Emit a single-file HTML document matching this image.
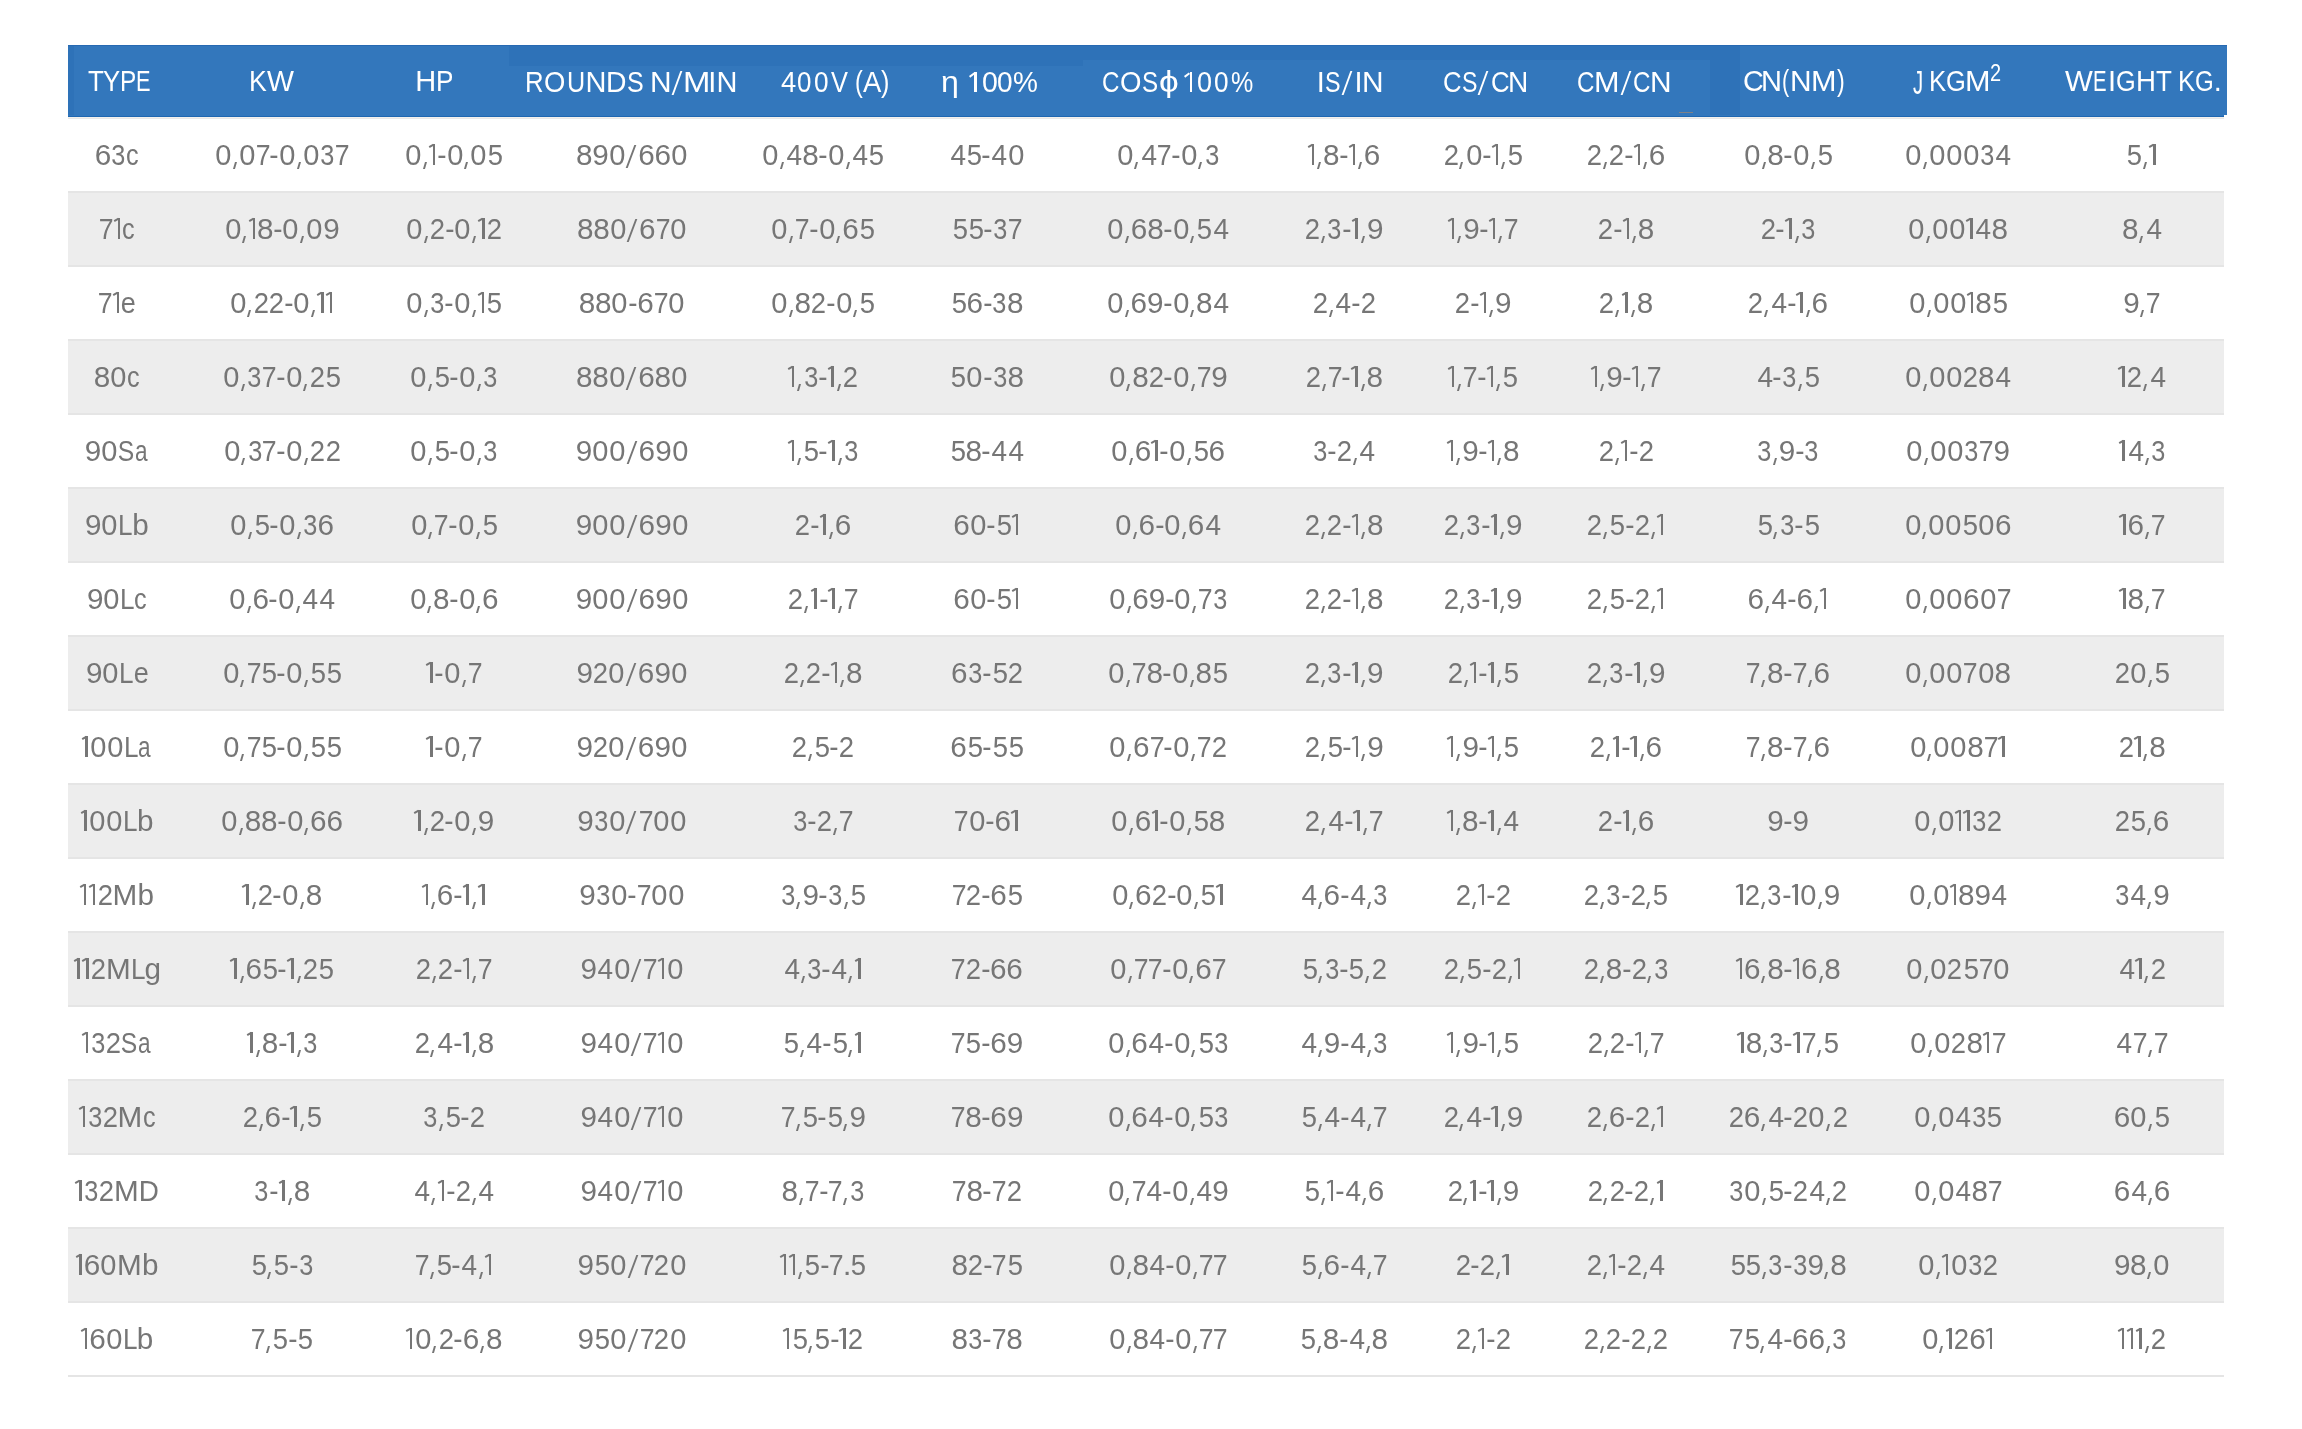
<!DOCTYPE html><html><head><meta charset="utf-8"><style>
*{margin:0;padding:0;box-sizing:border-box}
html,body{width:2302px;height:1429px;background:#fff;overflow:hidden}
body{font-family:"Liberation Sans",sans-serif;font-size:29.7px;position:relative}
.hd{position:absolute;left:68px;top:45px;width:2158.8px;height:70px;background:#3377bc}
.hdb{position:absolute;left:68px;top:115px;width:2156px;height:1px;background:#3377bc}
.mk{position:absolute;left:1679px;top:112px;width:14px;height:1px;background:#7e8187}
.fl{position:absolute;background:#2e72b8}
.hd0{position:absolute;left:68px;top:45px;width:2158.8px;height:1px;background:#2769b2}
.hd2{position:absolute;left:68px;top:116px;width:2156px;height:1px;background:#1f67b1}
.hl{position:absolute;left:68px;top:117px;width:2156px;height:1px;background:#f3f0ec}
.hl2{position:absolute;left:68px;top:118px;width:2156px;height:1px;background:#e8e8e8}
.r{position:absolute;left:68px;width:2156px;height:74px;border-bottom:2px solid #e5e5e5}
.g{background:#ededed}
.c{will-change:transform;position:absolute;top:0;width:400px;margin-left:-200px;text-align:center;line-height:72px;height:72px;white-space:nowrap;color:#767676}
i{font-style:normal}
.hc{position:absolute;left:0;width:2302px;height:72px;line-height:72px;font-size:29px;color:#fff;will-change:transform}
.hg{position:absolute;top:0;font-style:normal;transform-origin:0 0;white-space:pre}
b.hs{position:absolute;top:25.15px;width:2.3px;height:23.9px;background:#fff;transform:skewX(-20deg)}
b.h1{position:absolute;top:0;height:72px}
b.h1:before{content:'';position:absolute;right:0;bottom:25.95px;width:2.6px;height:19.8px;background:#fff}
b.h1:after{content:'';position:absolute;left:-0.15px;width:6.2px;height:2.1px;bottom:41.65px;transform:rotate(-37deg);background:#fff}
.gh{display:inline-block;margin:0 -0.37px 0 -0.47px;transform:scaleX(0.938)}
.g0{display:inline-block;margin:0 0.35px 0 0.16px;transform:scaleX(0.979)}
.g2{display:inline-block;margin:0 -0.51px 0 -0.55px;transform:scaleX(0.924)}
.g3{display:inline-block;margin:0 -0.77px 0 -0.68px;transform:scaleX(0.852)}
.g4{display:inline-block;margin:0 -0.26px 0 0.49px;transform:scaleX(0.942)}
.g5{display:inline-block;margin:0 -0.69px 0 0.11px;transform:scaleX(0.923)}
.g6{margin:0 -0.03px 0 -0.15px}
.g7{display:inline-block;margin:0 -1.26px 0 -0.87px;transform:scaleX(0.896)}
.g8{margin:0 -0.26px 0 -0.08px}
.g9{margin:0 -0.32px 0 0.09px}
.gD{display:inline-block;margin:0 -0.66px 0 -0.72px;transform:scaleX(0.938)}
.gL{display:inline-block;margin:0 -1.43px 0 -0.97px;transform:scaleX(0.878)}
.gM{margin:0 0.33px 0 -0.24px}
.gS{display:inline-block;margin:0 -1.40px 0 -1.71px;transform:scaleX(0.831)}
.ga{display:inline-block;margin:0 -0.16px 0 -1.72px;transform:scaleX(0.760)}
.gb{margin:0 0.19px 0 -0.13px}
.gc{display:inline-block;margin:0 -0.86px 0 -1.04px;transform:scaleX(0.851)}
.ge{display:inline-block;margin:0 -1.17px 0 -0.81px;transform:scaleX(0.911)}
.gg{margin:0 -0.16px 0 -0.69px}
.gp{display:inline-block;margin:0 -0.73px 0 -0.73px;transform:scaleX(1.061)}
.gs{display:inline-block;width:12.81px;height:0;position:relative}
.gs:before{content:'';position:absolute;left:4.91px;bottom:-2.7px;width:2.3px;height:23px;background:#767676;transform:skewX(-20.5deg)}
.gk{display:inline-block;width:6.80px;height:0;position:relative}
.gk:before{content:'';position:absolute;left:1.90px;bottom:-3.8px;width:2.4px;height:6.9px;background:#767676;transform:skewX(-16deg)}
.g1{display:inline-block;width:8.72px;height:0;position:relative}
.g1:before{content:'';position:absolute;left:4.15px;bottom:0;width:2.5px;height:20.6px;background:#767676}
.g1:after{content:'';position:absolute;left:0.35px;bottom:17.4px;width:4.5px;height:2.35px;background:#767676;transform:rotate(-30deg)}
</style></head><body>
<div class="hd"></div><div class="fl" style="left:68px;top:45px;width:6px;height:71px"></div><div class="fl" style="left:509px;top:45px;width:574px;height:21px"></div><div class="fl" style="left:1083px;top:45px;width:657px;height:15px"></div><div class="fl" style="left:1710px;top:45px;width:30px;height:71px"></div><div class="hd0"></div><div class="hdb"></div><div class="hd2"></div><div class="mk"></div><div class="hl"></div><div class="hl2"></div>
<div class="hc" style="top:45px"><i class="hg" style="left:87.62px;transform:scaleX(0.896)">T</i><i class="hg" style="left:103.14px;transform:scaleX(0.886)">Y</i><i class="hg" style="left:119.90px;transform:scaleX(0.842)">P</i><i class="hg" style="left:136.31px;transform:scaleX(0.751)">E</i></div>
<div class="hc" style="top:45px"><i class="hg" style="left:249.41px;transform:scaleX(0.920)">K</i><i class="hg" style="left:267.27px;transform:scaleX(0.984)">W</i></div>
<div class="hc" style="top:45px"><i class="hg" style="left:415.32px;transform:scaleX(1.000)">H</i><i class="hg" style="left:436.06px;transform:scaleX(0.901)">P</i></div>
<div class="hc" style="top:46px"><i class="hg" style="left:524.59px;transform:scaleX(0.889)">R</i><i class="hg" style="left:544.00px;transform:scaleX(0.945)">O</i><i class="hg" style="left:566.86px;transform:scaleX(0.868)">U</i><i class="hg" style="left:585.52px;transform:scaleX(1.000)">N</i><i class="hg" style="left:606.07px;transform:scaleX(0.978)">D</i><i class="hg" style="left:626.86px;transform:scaleX(0.863)">S</i><i class="hg" style="left:649.95px;transform:scaleX(1.031)">N</i><b class="hs" style="left:675.85px"></b><i class="hg" style="left:683.20px;transform:scaleX(1.134)">M</i><i class="hg" style="left:708.37px;transform:scaleX(1.000)">I</i><i class="hg" style="left:716.52px;transform:scaleX(1.000)">N</i></div>
<div class="hc" style="top:46px"><i class="hg" style="left:781.47px;transform:scaleX(0.944)">4</i><i class="hg" style="left:797.29px;transform:scaleX(0.894)">0</i><i class="hg" style="left:813.98px;transform:scaleX(0.902)">0</i><i class="hg" style="left:831.19px;transform:scaleX(0.875)">V</i><i class="hg" style="left:854.75px;transform:scaleX(0.806)">(</i><i class="hg" style="left:862.75px;transform:scaleX(0.946)">A</i><i class="hg" style="left:881.35px;transform:scaleX(0.871)">)</i></div>
<div class="hc" style="top:46px"><i class="hg" style="left:940.54px;transform:scaleX(1.106)">&eta;</i><b class="h1" style="left:969.20px;width:7.8px"></b><i class="hg" style="left:981.89px;transform:scaleX(0.981)">0</i><i class="hg" style="left:997.41px;transform:scaleX(0.967)">0</i><i class="hg" style="left:1013.10px;transform:scaleX(0.966)">%</i></div>
<div class="hc" style="top:46px"><i class="hg" style="left:1102.27px;transform:scaleX(0.833)">C</i><i class="hg" style="left:1119.50px;transform:scaleX(0.950)">O</i><i class="hg" style="left:1142.00px;transform:scaleX(0.833)">S</i><i class="hg" style="left:1159.12px;transform:scaleX(1.216)">&#x3D5;</i><b class="h1" style="left:1184.30px;width:7.8px"></b><i class="hg" style="left:1196.55px;transform:scaleX(0.931)">0</i><i class="hg" style="left:1213.68px;transform:scaleX(0.902)">0</i><i class="hg" style="left:1231.11px;transform:scaleX(0.864)">%</i></div>
<div class="hc" style="top:46px"><i class="hg" style="left:1316.72px;transform:scaleX(1.000)">I</i><i class="hg" style="left:1324.74px;transform:scaleX(0.803)">S</i><b class="hs" style="left:1346.10px"></b><i class="hg" style="left:1354.47px;transform:scaleX(1.000)">I</i><i class="hg" style="left:1361.55px;transform:scaleX(1.031)">N</i></div>
<div class="hc" style="top:46px"><i class="hg" style="left:1442.99px;transform:scaleX(0.888)">C</i><i class="hg" style="left:1461.95px;transform:scaleX(0.797)">S</i><b class="hs" style="left:1482.40px"></b><i class="hg" style="left:1490.79px;transform:scaleX(0.888)">C</i><i class="hg" style="left:1508.49px;transform:scaleX(0.969)">N</i></div>
<div class="hc" style="top:46px"><i class="hg" style="left:1577.37px;transform:scaleX(0.833)">C</i><i class="hg" style="left:1594.29px;transform:scaleX(1.057)">M</i><b class="hs" style="left:1624.55px"></b><i class="hg" style="left:1633.27px;transform:scaleX(0.833)">C</i><i class="hg" style="left:1649.75px;transform:scaleX(1.031)">N</i></div>
<div class="hc" style="top:45px"><i class="hg" style="left:1743.34px;transform:scaleX(0.991)">C</i><i class="hg" style="left:1761.12px;transform:scaleX(1.000)">N</i><i class="hg" style="left:1781.77px;transform:scaleX(0.741)">(</i><i class="hg" style="left:1790.15px;transform:scaleX(1.031)">N</i><i class="hg" style="left:1811.19px;transform:scaleX(1.057)">M</i><i class="hg" style="left:1836.96px;transform:scaleX(0.806)">)</i></div>
<div class="hc" style="top:45px"><i class="hg" style="left:1912.52px;transform-origin:0 25.4px;transform:scale(0.700,1.14)">J</i><i class="hg" style="left:1928.88px;transform:scaleX(0.890)">K</i><i class="hg" style="left:1945.72px;transform:scaleX(0.877)">G</i><i class="hg" style="left:1964.99px;transform:scaleX(1.057)">M</i><i class="hg" style="left:1990.00px;font-size:23.6px;top:-8.18px;line-height:72px;transform:scaleX(0.846)">2</i></div>
<div class="hc" style="top:45px"><i class="hg" style="left:2064.87px;transform:scaleX(1.017)">W</i><i class="hg" style="left:2093.33px;transform:scaleX(0.700)">E</i><i class="hg" style="left:2108.12px;transform:scaleX(1.000)">I</i><i class="hg" style="left:2116.03px;transform:scaleX(0.872)">G</i><i class="hg" style="left:2135.84px;transform:scaleX(0.951)">H</i><i class="hg" style="left:2155.52px;transform:scaleX(0.896)">T</i><i class="hg" style="left:2178.00px;transform:scaleX(0.884)">K</i><i class="hg" style="left:2195.39px;transform:scaleX(0.829)">G</i><i class="hg" style="left:2213.87px;transform:scaleX(1.000)">.</i></div>
<div class="r" style="top:119px"><div class="c" style="left:48.73px"><i class="g6">6</i><i class="g3">3</i><i class="gc">c</i></div><div class="c" style="left:213.87px"><i class="g0">0</i><i class="gk"></i><i class="g0">0</i><i class="g7">7</i><i class="gh">-</i><i class="g0">0</i><i class="gk"></i><i class="g0">0</i><i class="g3">3</i><i class="g7">7</i></div><div class="c" style="left:385.88px"><i class="g0">0</i><i class="gk"></i><i class="g1"></i><i class="gh">-</i><i class="g0">0</i><i class="gk"></i><i class="g0">0</i><i class="g5">5</i></div><div class="c" style="left:563.83px"><i class="g8">8</i><i class="g9">9</i><i class="g0">0</i><i class="gs"></i><i class="g6">6</i><i class="g6">6</i><i class="g0">0</i></div><div class="c" style="left:754.80px"><i class="g0">0</i><i class="gk"></i><i class="g4">4</i><i class="g8">8</i><i class="gh">-</i><i class="g0">0</i><i class="gk"></i><i class="g4">4</i><i class="g5">5</i></div><div class="c" style="left:919.10px"><i class="g4">4</i><i class="g5">5</i><i class="gh">-</i><i class="g4">4</i><i class="g0">0</i></div><div class="c" style="left:1099.85px"><i class="g0">0</i><i class="gk"></i><i class="g4">4</i><i class="g7">7</i><i class="gh">-</i><i class="g0">0</i><i class="gk"></i><i class="g3">3</i></div><div class="c" style="left:1275.77px"><i class="g1"></i><i class="gk"></i><i class="g8">8</i><i class="gh">-</i><i class="g1"></i><i class="gk"></i><i class="g6">6</i></div><div class="c" style="left:1414.50px"><i class="g2">2</i><i class="gk"></i><i class="g0">0</i><i class="gh">-</i><i class="g1"></i><i class="gk"></i><i class="g5">5</i></div><div class="c" style="left:1557.76px"><i class="g2">2</i><i class="gk"></i><i class="g2">2</i><i class="gh">-</i><i class="g1"></i><i class="gk"></i><i class="g6">6</i></div><div class="c" style="left:1719.80px"><i class="g0">0</i><i class="gk"></i><i class="g8">8</i><i class="gh">-</i><i class="g0">0</i><i class="gk"></i><i class="g5">5</i></div><div class="c" style="left:1889.60px"><i class="g0">0</i><i class="gk"></i><i class="g0">0</i><i class="g0">0</i><i class="g0">0</i><i class="g3">3</i><i class="g4">4</i></div><div class="c" style="left:2073.89px"><i class="g5">5</i><i class="gk"></i><i class="g1"></i></div></div>
<div class="r g" style="top:193px"><div class="c" style="left:48.73px"><i class="g7">7</i><i class="g1"></i><i class="gc">c</i></div><div class="c" style="left:213.87px"><i class="g0">0</i><i class="gk"></i><i class="g1"></i><i class="g8">8</i><i class="gh">-</i><i class="g0">0</i><i class="gk"></i><i class="g0">0</i><i class="g9">9</i></div><div class="c" style="left:385.88px"><i class="g0">0</i><i class="gk"></i><i class="g2">2</i><i class="gh">-</i><i class="g0">0</i><i class="gk"></i><i class="g1"></i><i class="g2">2</i></div><div class="c" style="left:563.83px"><i class="g8">8</i><i class="g8">8</i><i class="g0">0</i><i class="gs"></i><i class="g6">6</i><i class="g7">7</i><i class="g0">0</i></div><div class="c" style="left:754.80px"><i class="g0">0</i><i class="gk"></i><i class="g7">7</i><i class="gh">-</i><i class="g0">0</i><i class="gk"></i><i class="g6">6</i><i class="g5">5</i></div><div class="c" style="left:919.10px"><i class="g5">5</i><i class="g5">5</i><i class="gh">-</i><i class="g3">3</i><i class="g7">7</i></div><div class="c" style="left:1099.85px"><i class="g0">0</i><i class="gk"></i><i class="g6">6</i><i class="g8">8</i><i class="gh">-</i><i class="g0">0</i><i class="gk"></i><i class="g5">5</i><i class="g4">4</i></div><div class="c" style="left:1275.77px"><i class="g2">2</i><i class="gk"></i><i class="g3">3</i><i class="gh">-</i><i class="g1"></i><i class="gk"></i><i class="g9">9</i></div><div class="c" style="left:1414.50px"><i class="g1"></i><i class="gk"></i><i class="g9">9</i><i class="gh">-</i><i class="g1"></i><i class="gk"></i><i class="g7">7</i></div><div class="c" style="left:1557.76px"><i class="g2">2</i><i class="gh">-</i><i class="g1"></i><i class="gk"></i><i class="g8">8</i></div><div class="c" style="left:1719.80px"><i class="g2">2</i><i class="gh">-</i><i class="g1"></i><i class="gk"></i><i class="g3">3</i></div><div class="c" style="left:1889.60px"><i class="g0">0</i><i class="gk"></i><i class="g0">0</i><i class="g0">0</i><i class="g1"></i><i class="g4">4</i><i class="g8">8</i></div><div class="c" style="left:2073.89px"><i class="g8">8</i><i class="gk"></i><i class="g4">4</i></div></div>
<div class="r" style="top:267px"><div class="c" style="left:48.73px"><i class="g7">7</i><i class="g1"></i><i class="ge">e</i></div><div class="c" style="left:213.87px"><i class="g0">0</i><i class="gk"></i><i class="g2">2</i><i class="g2">2</i><i class="gh">-</i><i class="g0">0</i><i class="gk"></i><i class="g1"></i><i class="g1"></i></div><div class="c" style="left:385.88px"><i class="g0">0</i><i class="gk"></i><i class="g3">3</i><i class="gh">-</i><i class="g0">0</i><i class="gk"></i><i class="g1"></i><i class="g5">5</i></div><div class="c" style="left:563.83px"><i class="g8">8</i><i class="g8">8</i><i class="g0">0</i><i class="gh">-</i><i class="g6">6</i><i class="g7">7</i><i class="g0">0</i></div><div class="c" style="left:754.80px"><i class="g0">0</i><i class="gk"></i><i class="g8">8</i><i class="g2">2</i><i class="gh">-</i><i class="g0">0</i><i class="gk"></i><i class="g5">5</i></div><div class="c" style="left:919.10px"><i class="g5">5</i><i class="g6">6</i><i class="gh">-</i><i class="g3">3</i><i class="g8">8</i></div><div class="c" style="left:1099.85px"><i class="g0">0</i><i class="gk"></i><i class="g6">6</i><i class="g9">9</i><i class="gh">-</i><i class="g0">0</i><i class="gk"></i><i class="g8">8</i><i class="g4">4</i></div><div class="c" style="left:1275.77px"><i class="g2">2</i><i class="gk"></i><i class="g4">4</i><i class="gh">-</i><i class="g2">2</i></div><div class="c" style="left:1414.50px"><i class="g2">2</i><i class="gh">-</i><i class="g1"></i><i class="gk"></i><i class="g9">9</i></div><div class="c" style="left:1557.76px"><i class="g2">2</i><i class="gk"></i><i class="g1"></i><i class="gk"></i><i class="g8">8</i></div><div class="c" style="left:1719.80px"><i class="g2">2</i><i class="gk"></i><i class="g4">4</i><i class="gh">-</i><i class="g1"></i><i class="gk"></i><i class="g6">6</i></div><div class="c" style="left:1889.60px"><i class="g0">0</i><i class="gk"></i><i class="g0">0</i><i class="g0">0</i><i class="g1"></i><i class="g8">8</i><i class="g5">5</i></div><div class="c" style="left:2073.89px"><i class="g9">9</i><i class="gk"></i><i class="g7">7</i></div></div>
<div class="r g" style="top:341px"><div class="c" style="left:48.73px"><i class="g8">8</i><i class="g0">0</i><i class="gc">c</i></div><div class="c" style="left:213.87px"><i class="g0">0</i><i class="gk"></i><i class="g3">3</i><i class="g7">7</i><i class="gh">-</i><i class="g0">0</i><i class="gk"></i><i class="g2">2</i><i class="g5">5</i></div><div class="c" style="left:385.88px"><i class="g0">0</i><i class="gk"></i><i class="g5">5</i><i class="gh">-</i><i class="g0">0</i><i class="gk"></i><i class="g3">3</i></div><div class="c" style="left:563.83px"><i class="g8">8</i><i class="g8">8</i><i class="g0">0</i><i class="gs"></i><i class="g6">6</i><i class="g8">8</i><i class="g0">0</i></div><div class="c" style="left:754.80px"><i class="g1"></i><i class="gk"></i><i class="g3">3</i><i class="gh">-</i><i class="g1"></i><i class="gk"></i><i class="g2">2</i></div><div class="c" style="left:919.10px"><i class="g5">5</i><i class="g0">0</i><i class="gh">-</i><i class="g3">3</i><i class="g8">8</i></div><div class="c" style="left:1099.85px"><i class="g0">0</i><i class="gk"></i><i class="g8">8</i><i class="g2">2</i><i class="gh">-</i><i class="g0">0</i><i class="gk"></i><i class="g7">7</i><i class="g9">9</i></div><div class="c" style="left:1275.77px"><i class="g2">2</i><i class="gk"></i><i class="g7">7</i><i class="gh">-</i><i class="g1"></i><i class="gk"></i><i class="g8">8</i></div><div class="c" style="left:1414.50px"><i class="g1"></i><i class="gk"></i><i class="g7">7</i><i class="gh">-</i><i class="g1"></i><i class="gk"></i><i class="g5">5</i></div><div class="c" style="left:1557.76px"><i class="g1"></i><i class="gk"></i><i class="g9">9</i><i class="gh">-</i><i class="g1"></i><i class="gk"></i><i class="g7">7</i></div><div class="c" style="left:1719.80px"><i class="g4">4</i><i class="gh">-</i><i class="g3">3</i><i class="gk"></i><i class="g5">5</i></div><div class="c" style="left:1889.60px"><i class="g0">0</i><i class="gk"></i><i class="g0">0</i><i class="g0">0</i><i class="g2">2</i><i class="g8">8</i><i class="g4">4</i></div><div class="c" style="left:2073.89px"><i class="g1"></i><i class="g2">2</i><i class="gk"></i><i class="g4">4</i></div></div>
<div class="r" style="top:415px"><div class="c" style="left:48.73px"><i class="g9">9</i><i class="g0">0</i><i class="gS">S</i><i class="ga">a</i></div><div class="c" style="left:213.87px"><i class="g0">0</i><i class="gk"></i><i class="g3">3</i><i class="g7">7</i><i class="gh">-</i><i class="g0">0</i><i class="gk"></i><i class="g2">2</i><i class="g2">2</i></div><div class="c" style="left:385.88px"><i class="g0">0</i><i class="gk"></i><i class="g5">5</i><i class="gh">-</i><i class="g0">0</i><i class="gk"></i><i class="g3">3</i></div><div class="c" style="left:563.83px"><i class="g9">9</i><i class="g0">0</i><i class="g0">0</i><i class="gs"></i><i class="g6">6</i><i class="g9">9</i><i class="g0">0</i></div><div class="c" style="left:754.80px"><i class="g1"></i><i class="gk"></i><i class="g5">5</i><i class="gh">-</i><i class="g1"></i><i class="gk"></i><i class="g3">3</i></div><div class="c" style="left:919.10px"><i class="g5">5</i><i class="g8">8</i><i class="gh">-</i><i class="g4">4</i><i class="g4">4</i></div><div class="c" style="left:1099.85px"><i class="g0">0</i><i class="gk"></i><i class="g6">6</i><i class="g1"></i><i class="gh">-</i><i class="g0">0</i><i class="gk"></i><i class="g5">5</i><i class="g6">6</i></div><div class="c" style="left:1275.77px"><i class="g3">3</i><i class="gh">-</i><i class="g2">2</i><i class="gk"></i><i class="g4">4</i></div><div class="c" style="left:1414.50px"><i class="g1"></i><i class="gk"></i><i class="g9">9</i><i class="gh">-</i><i class="g1"></i><i class="gk"></i><i class="g8">8</i></div><div class="c" style="left:1557.76px"><i class="g2">2</i><i class="gk"></i><i class="g1"></i><i class="gh">-</i><i class="g2">2</i></div><div class="c" style="left:1719.80px"><i class="g3">3</i><i class="gk"></i><i class="g9">9</i><i class="gh">-</i><i class="g3">3</i></div><div class="c" style="left:1889.60px"><i class="g0">0</i><i class="gk"></i><i class="g0">0</i><i class="g0">0</i><i class="g3">3</i><i class="g7">7</i><i class="g9">9</i></div><div class="c" style="left:2073.89px"><i class="g1"></i><i class="g4">4</i><i class="gk"></i><i class="g3">3</i></div></div>
<div class="r g" style="top:489px"><div class="c" style="left:48.73px"><i class="g9">9</i><i class="g0">0</i><i class="gL">L</i><i class="gb">b</i></div><div class="c" style="left:213.87px"><i class="g0">0</i><i class="gk"></i><i class="g5">5</i><i class="gh">-</i><i class="g0">0</i><i class="gk"></i><i class="g3">3</i><i class="g6">6</i></div><div class="c" style="left:385.88px"><i class="g0">0</i><i class="gk"></i><i class="g7">7</i><i class="gh">-</i><i class="g0">0</i><i class="gk"></i><i class="g5">5</i></div><div class="c" style="left:563.83px"><i class="g9">9</i><i class="g0">0</i><i class="g0">0</i><i class="gs"></i><i class="g6">6</i><i class="g9">9</i><i class="g0">0</i></div><div class="c" style="left:754.80px"><i class="g2">2</i><i class="gh">-</i><i class="g1"></i><i class="gk"></i><i class="g6">6</i></div><div class="c" style="left:919.10px"><i class="g6">6</i><i class="g0">0</i><i class="gh">-</i><i class="g5">5</i><i class="g1"></i></div><div class="c" style="left:1099.85px"><i class="g0">0</i><i class="gk"></i><i class="g6">6</i><i class="gh">-</i><i class="g0">0</i><i class="gk"></i><i class="g6">6</i><i class="g4">4</i></div><div class="c" style="left:1275.77px"><i class="g2">2</i><i class="gk"></i><i class="g2">2</i><i class="gh">-</i><i class="g1"></i><i class="gk"></i><i class="g8">8</i></div><div class="c" style="left:1414.50px"><i class="g2">2</i><i class="gk"></i><i class="g3">3</i><i class="gh">-</i><i class="g1"></i><i class="gk"></i><i class="g9">9</i></div><div class="c" style="left:1557.76px"><i class="g2">2</i><i class="gk"></i><i class="g5">5</i><i class="gh">-</i><i class="g2">2</i><i class="gk"></i><i class="g1"></i></div><div class="c" style="left:1719.80px"><i class="g5">5</i><i class="gk"></i><i class="g3">3</i><i class="gh">-</i><i class="g5">5</i></div><div class="c" style="left:1889.60px"><i class="g0">0</i><i class="gk"></i><i class="g0">0</i><i class="g0">0</i><i class="g5">5</i><i class="g0">0</i><i class="g6">6</i></div><div class="c" style="left:2073.89px"><i class="g1"></i><i class="g6">6</i><i class="gk"></i><i class="g7">7</i></div></div>
<div class="r" style="top:563px"><div class="c" style="left:48.73px"><i class="g9">9</i><i class="g0">0</i><i class="gL">L</i><i class="gc">c</i></div><div class="c" style="left:213.87px"><i class="g0">0</i><i class="gk"></i><i class="g6">6</i><i class="gh">-</i><i class="g0">0</i><i class="gk"></i><i class="g4">4</i><i class="g4">4</i></div><div class="c" style="left:385.88px"><i class="g0">0</i><i class="gk"></i><i class="g8">8</i><i class="gh">-</i><i class="g0">0</i><i class="gk"></i><i class="g6">6</i></div><div class="c" style="left:563.83px"><i class="g9">9</i><i class="g0">0</i><i class="g0">0</i><i class="gs"></i><i class="g6">6</i><i class="g9">9</i><i class="g0">0</i></div><div class="c" style="left:754.80px"><i class="g2">2</i><i class="gk"></i><i class="g1"></i><i class="gh">-</i><i class="g1"></i><i class="gk"></i><i class="g7">7</i></div><div class="c" style="left:919.10px"><i class="g6">6</i><i class="g0">0</i><i class="gh">-</i><i class="g5">5</i><i class="g1"></i></div><div class="c" style="left:1099.85px"><i class="g0">0</i><i class="gk"></i><i class="g6">6</i><i class="g9">9</i><i class="gh">-</i><i class="g0">0</i><i class="gk"></i><i class="g7">7</i><i class="g3">3</i></div><div class="c" style="left:1275.77px"><i class="g2">2</i><i class="gk"></i><i class="g2">2</i><i class="gh">-</i><i class="g1"></i><i class="gk"></i><i class="g8">8</i></div><div class="c" style="left:1414.50px"><i class="g2">2</i><i class="gk"></i><i class="g3">3</i><i class="gh">-</i><i class="g1"></i><i class="gk"></i><i class="g9">9</i></div><div class="c" style="left:1557.76px"><i class="g2">2</i><i class="gk"></i><i class="g5">5</i><i class="gh">-</i><i class="g2">2</i><i class="gk"></i><i class="g1"></i></div><div class="c" style="left:1719.80px"><i class="g6">6</i><i class="gk"></i><i class="g4">4</i><i class="gh">-</i><i class="g6">6</i><i class="gk"></i><i class="g1"></i></div><div class="c" style="left:1889.60px"><i class="g0">0</i><i class="gk"></i><i class="g0">0</i><i class="g0">0</i><i class="g6">6</i><i class="g0">0</i><i class="g7">7</i></div><div class="c" style="left:2073.89px"><i class="g1"></i><i class="g8">8</i><i class="gk"></i><i class="g7">7</i></div></div>
<div class="r g" style="top:637px"><div class="c" style="left:48.73px"><i class="g9">9</i><i class="g0">0</i><i class="gL">L</i><i class="ge">e</i></div><div class="c" style="left:213.87px"><i class="g0">0</i><i class="gk"></i><i class="g7">7</i><i class="g5">5</i><i class="gh">-</i><i class="g0">0</i><i class="gk"></i><i class="g5">5</i><i class="g5">5</i></div><div class="c" style="left:385.88px"><i class="g1"></i><i class="gh">-</i><i class="g0">0</i><i class="gk"></i><i class="g7">7</i></div><div class="c" style="left:563.83px"><i class="g9">9</i><i class="g2">2</i><i class="g0">0</i><i class="gs"></i><i class="g6">6</i><i class="g9">9</i><i class="g0">0</i></div><div class="c" style="left:754.80px"><i class="g2">2</i><i class="gk"></i><i class="g2">2</i><i class="gh">-</i><i class="g1"></i><i class="gk"></i><i class="g8">8</i></div><div class="c" style="left:919.10px"><i class="g6">6</i><i class="g3">3</i><i class="gh">-</i><i class="g5">5</i><i class="g2">2</i></div><div class="c" style="left:1099.85px"><i class="g0">0</i><i class="gk"></i><i class="g7">7</i><i class="g8">8</i><i class="gh">-</i><i class="g0">0</i><i class="gk"></i><i class="g8">8</i><i class="g5">5</i></div><div class="c" style="left:1275.77px"><i class="g2">2</i><i class="gk"></i><i class="g3">3</i><i class="gh">-</i><i class="g1"></i><i class="gk"></i><i class="g9">9</i></div><div class="c" style="left:1414.50px"><i class="g2">2</i><i class="gk"></i><i class="g1"></i><i class="gh">-</i><i class="g1"></i><i class="gk"></i><i class="g5">5</i></div><div class="c" style="left:1557.76px"><i class="g2">2</i><i class="gk"></i><i class="g3">3</i><i class="gh">-</i><i class="g1"></i><i class="gk"></i><i class="g9">9</i></div><div class="c" style="left:1719.80px"><i class="g7">7</i><i class="gk"></i><i class="g8">8</i><i class="gh">-</i><i class="g7">7</i><i class="gk"></i><i class="g6">6</i></div><div class="c" style="left:1889.60px"><i class="g0">0</i><i class="gk"></i><i class="g0">0</i><i class="g0">0</i><i class="g7">7</i><i class="g0">0</i><i class="g8">8</i></div><div class="c" style="left:2073.89px"><i class="g2">2</i><i class="g0">0</i><i class="gk"></i><i class="g5">5</i></div></div>
<div class="r" style="top:711px"><div class="c" style="left:48.73px"><i class="g1"></i><i class="g0">0</i><i class="g0">0</i><i class="gL">L</i><i class="ga">a</i></div><div class="c" style="left:213.87px"><i class="g0">0</i><i class="gk"></i><i class="g7">7</i><i class="g5">5</i><i class="gh">-</i><i class="g0">0</i><i class="gk"></i><i class="g5">5</i><i class="g5">5</i></div><div class="c" style="left:385.88px"><i class="g1"></i><i class="gh">-</i><i class="g0">0</i><i class="gk"></i><i class="g7">7</i></div><div class="c" style="left:563.83px"><i class="g9">9</i><i class="g2">2</i><i class="g0">0</i><i class="gs"></i><i class="g6">6</i><i class="g9">9</i><i class="g0">0</i></div><div class="c" style="left:754.80px"><i class="g2">2</i><i class="gk"></i><i class="g5">5</i><i class="gh">-</i><i class="g2">2</i></div><div class="c" style="left:919.10px"><i class="g6">6</i><i class="g5">5</i><i class="gh">-</i><i class="g5">5</i><i class="g5">5</i></div><div class="c" style="left:1099.85px"><i class="g0">0</i><i class="gk"></i><i class="g6">6</i><i class="g7">7</i><i class="gh">-</i><i class="g0">0</i><i class="gk"></i><i class="g7">7</i><i class="g2">2</i></div><div class="c" style="left:1275.77px"><i class="g2">2</i><i class="gk"></i><i class="g5">5</i><i class="gh">-</i><i class="g1"></i><i class="gk"></i><i class="g9">9</i></div><div class="c" style="left:1414.50px"><i class="g1"></i><i class="gk"></i><i class="g9">9</i><i class="gh">-</i><i class="g1"></i><i class="gk"></i><i class="g5">5</i></div><div class="c" style="left:1557.76px"><i class="g2">2</i><i class="gk"></i><i class="g1"></i><i class="gh">-</i><i class="g1"></i><i class="gk"></i><i class="g6">6</i></div><div class="c" style="left:1719.80px"><i class="g7">7</i><i class="gk"></i><i class="g8">8</i><i class="gh">-</i><i class="g7">7</i><i class="gk"></i><i class="g6">6</i></div><div class="c" style="left:1889.60px"><i class="g0">0</i><i class="gk"></i><i class="g0">0</i><i class="g0">0</i><i class="g8">8</i><i class="g7">7</i><i class="g1"></i></div><div class="c" style="left:2073.89px"><i class="g2">2</i><i class="g1"></i><i class="gk"></i><i class="g8">8</i></div></div>
<div class="r g" style="top:785px"><div class="c" style="left:48.73px"><i class="g1"></i><i class="g0">0</i><i class="g0">0</i><i class="gL">L</i><i class="gb">b</i></div><div class="c" style="left:213.87px"><i class="g0">0</i><i class="gk"></i><i class="g8">8</i><i class="g8">8</i><i class="gh">-</i><i class="g0">0</i><i class="gk"></i><i class="g6">6</i><i class="g6">6</i></div><div class="c" style="left:385.88px"><i class="g1"></i><i class="gk"></i><i class="g2">2</i><i class="gh">-</i><i class="g0">0</i><i class="gk"></i><i class="g9">9</i></div><div class="c" style="left:563.83px"><i class="g9">9</i><i class="g3">3</i><i class="g0">0</i><i class="gs"></i><i class="g7">7</i><i class="g0">0</i><i class="g0">0</i></div><div class="c" style="left:754.80px"><i class="g3">3</i><i class="gh">-</i><i class="g2">2</i><i class="gk"></i><i class="g7">7</i></div><div class="c" style="left:919.10px"><i class="g7">7</i><i class="g0">0</i><i class="gh">-</i><i class="g6">6</i><i class="g1"></i></div><div class="c" style="left:1099.85px"><i class="g0">0</i><i class="gk"></i><i class="g6">6</i><i class="g1"></i><i class="gh">-</i><i class="g0">0</i><i class="gk"></i><i class="g5">5</i><i class="g8">8</i></div><div class="c" style="left:1275.77px"><i class="g2">2</i><i class="gk"></i><i class="g4">4</i><i class="gh">-</i><i class="g1"></i><i class="gk"></i><i class="g7">7</i></div><div class="c" style="left:1414.50px"><i class="g1"></i><i class="gk"></i><i class="g8">8</i><i class="gh">-</i><i class="g1"></i><i class="gk"></i><i class="g4">4</i></div><div class="c" style="left:1557.76px"><i class="g2">2</i><i class="gh">-</i><i class="g1"></i><i class="gk"></i><i class="g6">6</i></div><div class="c" style="left:1719.80px"><i class="g9">9</i><i class="gh">-</i><i class="g9">9</i></div><div class="c" style="left:1889.60px"><i class="g0">0</i><i class="gk"></i><i class="g0">0</i><i class="g1"></i><i class="g1"></i><i class="g3">3</i><i class="g2">2</i></div><div class="c" style="left:2073.89px"><i class="g2">2</i><i class="g5">5</i><i class="gk"></i><i class="g6">6</i></div></div>
<div class="r" style="top:859px"><div class="c" style="left:48.73px"><i class="g1"></i><i class="g1"></i><i class="g2">2</i><i class="gM">M</i><i class="gb">b</i></div><div class="c" style="left:213.87px"><i class="g1"></i><i class="gk"></i><i class="g2">2</i><i class="gh">-</i><i class="g0">0</i><i class="gk"></i><i class="g8">8</i></div><div class="c" style="left:385.88px"><i class="g1"></i><i class="gk"></i><i class="g6">6</i><i class="gh">-</i><i class="g1"></i><i class="gk"></i><i class="g1"></i></div><div class="c" style="left:563.83px"><i class="g9">9</i><i class="g3">3</i><i class="g0">0</i><i class="gh">-</i><i class="g7">7</i><i class="g0">0</i><i class="g0">0</i></div><div class="c" style="left:754.80px"><i class="g3">3</i><i class="gk"></i><i class="g9">9</i><i class="gh">-</i><i class="g3">3</i><i class="gk"></i><i class="g5">5</i></div><div class="c" style="left:919.10px"><i class="g7">7</i><i class="g2">2</i><i class="gh">-</i><i class="g6">6</i><i class="g5">5</i></div><div class="c" style="left:1099.85px"><i class="g0">0</i><i class="gk"></i><i class="g6">6</i><i class="g2">2</i><i class="gh">-</i><i class="g0">0</i><i class="gk"></i><i class="g5">5</i><i class="g1"></i></div><div class="c" style="left:1275.77px"><i class="g4">4</i><i class="gk"></i><i class="g6">6</i><i class="gh">-</i><i class="g4">4</i><i class="gk"></i><i class="g3">3</i></div><div class="c" style="left:1414.50px"><i class="g2">2</i><i class="gk"></i><i class="g1"></i><i class="gh">-</i><i class="g2">2</i></div><div class="c" style="left:1557.76px"><i class="g2">2</i><i class="gk"></i><i class="g3">3</i><i class="gh">-</i><i class="g2">2</i><i class="gk"></i><i class="g5">5</i></div><div class="c" style="left:1719.80px"><i class="g1"></i><i class="g2">2</i><i class="gk"></i><i class="g3">3</i><i class="gh">-</i><i class="g1"></i><i class="g0">0</i><i class="gk"></i><i class="g9">9</i></div><div class="c" style="left:1889.60px"><i class="g0">0</i><i class="gk"></i><i class="g0">0</i><i class="g1"></i><i class="g8">8</i><i class="g9">9</i><i class="g4">4</i></div><div class="c" style="left:2073.89px"><i class="g3">3</i><i class="g4">4</i><i class="gk"></i><i class="g9">9</i></div></div>
<div class="r g" style="top:933px"><div class="c" style="left:48.73px"><i class="g1"></i><i class="g1"></i><i class="g2">2</i><i class="gM">M</i><i class="gL">L</i><i class="gg">g</i></div><div class="c" style="left:213.87px"><i class="g1"></i><i class="gk"></i><i class="g6">6</i><i class="g5">5</i><i class="gh">-</i><i class="g1"></i><i class="gk"></i><i class="g2">2</i><i class="g5">5</i></div><div class="c" style="left:385.88px"><i class="g2">2</i><i class="gk"></i><i class="g2">2</i><i class="gh">-</i><i class="g1"></i><i class="gk"></i><i class="g7">7</i></div><div class="c" style="left:563.83px"><i class="g9">9</i><i class="g4">4</i><i class="g0">0</i><i class="gs"></i><i class="g7">7</i><i class="g1"></i><i class="g0">0</i></div><div class="c" style="left:754.80px"><i class="g4">4</i><i class="gk"></i><i class="g3">3</i><i class="gh">-</i><i class="g4">4</i><i class="gk"></i><i class="g1"></i></div><div class="c" style="left:919.10px"><i class="g7">7</i><i class="g2">2</i><i class="gh">-</i><i class="g6">6</i><i class="g6">6</i></div><div class="c" style="left:1099.85px"><i class="g0">0</i><i class="gk"></i><i class="g7">7</i><i class="g7">7</i><i class="gh">-</i><i class="g0">0</i><i class="gk"></i><i class="g6">6</i><i class="g7">7</i></div><div class="c" style="left:1275.77px"><i class="g5">5</i><i class="gk"></i><i class="g3">3</i><i class="gh">-</i><i class="g5">5</i><i class="gk"></i><i class="g2">2</i></div><div class="c" style="left:1414.50px"><i class="g2">2</i><i class="gk"></i><i class="g5">5</i><i class="gh">-</i><i class="g2">2</i><i class="gk"></i><i class="g1"></i></div><div class="c" style="left:1557.76px"><i class="g2">2</i><i class="gk"></i><i class="g8">8</i><i class="gh">-</i><i class="g2">2</i><i class="gk"></i><i class="g3">3</i></div><div class="c" style="left:1719.80px"><i class="g1"></i><i class="g6">6</i><i class="gk"></i><i class="g8">8</i><i class="gh">-</i><i class="g1"></i><i class="g6">6</i><i class="gk"></i><i class="g8">8</i></div><div class="c" style="left:1889.60px"><i class="g0">0</i><i class="gk"></i><i class="g0">0</i><i class="g2">2</i><i class="g5">5</i><i class="g7">7</i><i class="g0">0</i></div><div class="c" style="left:2073.89px"><i class="g4">4</i><i class="g1"></i><i class="gk"></i><i class="g2">2</i></div></div>
<div class="r" style="top:1007px"><div class="c" style="left:48.73px"><i class="g1"></i><i class="g3">3</i><i class="g2">2</i><i class="gS">S</i><i class="ga">a</i></div><div class="c" style="left:213.87px"><i class="g1"></i><i class="gk"></i><i class="g8">8</i><i class="gh">-</i><i class="g1"></i><i class="gk"></i><i class="g3">3</i></div><div class="c" style="left:385.88px"><i class="g2">2</i><i class="gk"></i><i class="g4">4</i><i class="gh">-</i><i class="g1"></i><i class="gk"></i><i class="g8">8</i></div><div class="c" style="left:563.83px"><i class="g9">9</i><i class="g4">4</i><i class="g0">0</i><i class="gs"></i><i class="g7">7</i><i class="g1"></i><i class="g0">0</i></div><div class="c" style="left:754.80px"><i class="g5">5</i><i class="gk"></i><i class="g4">4</i><i class="gh">-</i><i class="g5">5</i><i class="gk"></i><i class="g1"></i></div><div class="c" style="left:919.10px"><i class="g7">7</i><i class="g5">5</i><i class="gh">-</i><i class="g6">6</i><i class="g9">9</i></div><div class="c" style="left:1099.85px"><i class="g0">0</i><i class="gk"></i><i class="g6">6</i><i class="g4">4</i><i class="gh">-</i><i class="g0">0</i><i class="gk"></i><i class="g5">5</i><i class="g3">3</i></div><div class="c" style="left:1275.77px"><i class="g4">4</i><i class="gk"></i><i class="g9">9</i><i class="gh">-</i><i class="g4">4</i><i class="gk"></i><i class="g3">3</i></div><div class="c" style="left:1414.50px"><i class="g1"></i><i class="gk"></i><i class="g9">9</i><i class="gh">-</i><i class="g1"></i><i class="gk"></i><i class="g5">5</i></div><div class="c" style="left:1557.76px"><i class="g2">2</i><i class="gk"></i><i class="g2">2</i><i class="gh">-</i><i class="g1"></i><i class="gk"></i><i class="g7">7</i></div><div class="c" style="left:1719.80px"><i class="g1"></i><i class="g8">8</i><i class="gk"></i><i class="g3">3</i><i class="gh">-</i><i class="g1"></i><i class="g7">7</i><i class="gk"></i><i class="g5">5</i></div><div class="c" style="left:1889.60px"><i class="g0">0</i><i class="gk"></i><i class="g0">0</i><i class="g2">2</i><i class="g8">8</i><i class="g1"></i><i class="g7">7</i></div><div class="c" style="left:2073.89px"><i class="g4">4</i><i class="g7">7</i><i class="gk"></i><i class="g7">7</i></div></div>
<div class="r g" style="top:1081px"><div class="c" style="left:48.73px"><i class="g1"></i><i class="g3">3</i><i class="g2">2</i><i class="gM">M</i><i class="gc">c</i></div><div class="c" style="left:213.87px"><i class="g2">2</i><i class="gk"></i><i class="g6">6</i><i class="gh">-</i><i class="g1"></i><i class="gk"></i><i class="g5">5</i></div><div class="c" style="left:385.88px"><i class="g3">3</i><i class="gk"></i><i class="g5">5</i><i class="gh">-</i><i class="g2">2</i></div><div class="c" style="left:563.83px"><i class="g9">9</i><i class="g4">4</i><i class="g0">0</i><i class="gs"></i><i class="g7">7</i><i class="g1"></i><i class="g0">0</i></div><div class="c" style="left:754.80px"><i class="g7">7</i><i class="gk"></i><i class="g5">5</i><i class="gh">-</i><i class="g5">5</i><i class="gk"></i><i class="g9">9</i></div><div class="c" style="left:919.10px"><i class="g7">7</i><i class="g8">8</i><i class="gh">-</i><i class="g6">6</i><i class="g9">9</i></div><div class="c" style="left:1099.85px"><i class="g0">0</i><i class="gk"></i><i class="g6">6</i><i class="g4">4</i><i class="gh">-</i><i class="g0">0</i><i class="gk"></i><i class="g5">5</i><i class="g3">3</i></div><div class="c" style="left:1275.77px"><i class="g5">5</i><i class="gk"></i><i class="g4">4</i><i class="gh">-</i><i class="g4">4</i><i class="gk"></i><i class="g7">7</i></div><div class="c" style="left:1414.50px"><i class="g2">2</i><i class="gk"></i><i class="g4">4</i><i class="gh">-</i><i class="g1"></i><i class="gk"></i><i class="g9">9</i></div><div class="c" style="left:1557.76px"><i class="g2">2</i><i class="gk"></i><i class="g6">6</i><i class="gh">-</i><i class="g2">2</i><i class="gk"></i><i class="g1"></i></div><div class="c" style="left:1719.80px"><i class="g2">2</i><i class="g6">6</i><i class="gk"></i><i class="g4">4</i><i class="gh">-</i><i class="g2">2</i><i class="g0">0</i><i class="gk"></i><i class="g2">2</i></div><div class="c" style="left:1889.60px"><i class="g0">0</i><i class="gk"></i><i class="g0">0</i><i class="g4">4</i><i class="g3">3</i><i class="g5">5</i></div><div class="c" style="left:2073.89px"><i class="g6">6</i><i class="g0">0</i><i class="gk"></i><i class="g5">5</i></div></div>
<div class="r" style="top:1155px"><div class="c" style="left:48.73px"><i class="g1"></i><i class="g3">3</i><i class="g2">2</i><i class="gM">M</i><i class="gD">D</i></div><div class="c" style="left:213.87px"><i class="g3">3</i><i class="gh">-</i><i class="g1"></i><i class="gk"></i><i class="g8">8</i></div><div class="c" style="left:385.88px"><i class="g4">4</i><i class="gk"></i><i class="g1"></i><i class="gh">-</i><i class="g2">2</i><i class="gk"></i><i class="g4">4</i></div><div class="c" style="left:563.83px"><i class="g9">9</i><i class="g4">4</i><i class="g0">0</i><i class="gs"></i><i class="g7">7</i><i class="g1"></i><i class="g0">0</i></div><div class="c" style="left:754.80px"><i class="g8">8</i><i class="gk"></i><i class="g7">7</i><i class="gh">-</i><i class="g7">7</i><i class="gk"></i><i class="g3">3</i></div><div class="c" style="left:919.10px"><i class="g7">7</i><i class="g8">8</i><i class="gh">-</i><i class="g7">7</i><i class="g2">2</i></div><div class="c" style="left:1099.85px"><i class="g0">0</i><i class="gk"></i><i class="g7">7</i><i class="g4">4</i><i class="gh">-</i><i class="g0">0</i><i class="gk"></i><i class="g4">4</i><i class="g9">9</i></div><div class="c" style="left:1275.77px"><i class="g5">5</i><i class="gk"></i><i class="g1"></i><i class="gh">-</i><i class="g4">4</i><i class="gk"></i><i class="g6">6</i></div><div class="c" style="left:1414.50px"><i class="g2">2</i><i class="gk"></i><i class="g1"></i><i class="gh">-</i><i class="g1"></i><i class="gk"></i><i class="g9">9</i></div><div class="c" style="left:1557.76px"><i class="g2">2</i><i class="gk"></i><i class="g2">2</i><i class="gh">-</i><i class="g2">2</i><i class="gk"></i><i class="g1"></i></div><div class="c" style="left:1719.80px"><i class="g3">3</i><i class="g0">0</i><i class="gk"></i><i class="g5">5</i><i class="gh">-</i><i class="g2">2</i><i class="g4">4</i><i class="gk"></i><i class="g2">2</i></div><div class="c" style="left:1889.60px"><i class="g0">0</i><i class="gk"></i><i class="g0">0</i><i class="g4">4</i><i class="g8">8</i><i class="g7">7</i></div><div class="c" style="left:2073.89px"><i class="g6">6</i><i class="g4">4</i><i class="gk"></i><i class="g6">6</i></div></div>
<div class="r g" style="top:1229px"><div class="c" style="left:48.73px"><i class="g1"></i><i class="g6">6</i><i class="g0">0</i><i class="gM">M</i><i class="gb">b</i></div><div class="c" style="left:213.87px"><i class="g5">5</i><i class="gk"></i><i class="g5">5</i><i class="gh">-</i><i class="g3">3</i></div><div class="c" style="left:385.88px"><i class="g7">7</i><i class="gk"></i><i class="g5">5</i><i class="gh">-</i><i class="g4">4</i><i class="gk"></i><i class="g1"></i></div><div class="c" style="left:563.83px"><i class="g9">9</i><i class="g5">5</i><i class="g0">0</i><i class="gs"></i><i class="g7">7</i><i class="g2">2</i><i class="g0">0</i></div><div class="c" style="left:754.80px"><i class="g1"></i><i class="g1"></i><i class="gk"></i><i class="g5">5</i><i class="gh">-</i><i class="g7">7</i><i class="gp">.</i><i class="g5">5</i></div><div class="c" style="left:919.10px"><i class="g8">8</i><i class="g2">2</i><i class="gh">-</i><i class="g7">7</i><i class="g5">5</i></div><div class="c" style="left:1099.85px"><i class="g0">0</i><i class="gk"></i><i class="g8">8</i><i class="g4">4</i><i class="gh">-</i><i class="g0">0</i><i class="gk"></i><i class="g7">7</i><i class="g7">7</i></div><div class="c" style="left:1275.77px"><i class="g5">5</i><i class="gk"></i><i class="g6">6</i><i class="gh">-</i><i class="g4">4</i><i class="gk"></i><i class="g7">7</i></div><div class="c" style="left:1414.50px"><i class="g2">2</i><i class="gh">-</i><i class="g2">2</i><i class="gk"></i><i class="g1"></i></div><div class="c" style="left:1557.76px"><i class="g2">2</i><i class="gk"></i><i class="g1"></i><i class="gh">-</i><i class="g2">2</i><i class="gk"></i><i class="g4">4</i></div><div class="c" style="left:1719.80px"><i class="g5">5</i><i class="g5">5</i><i class="gk"></i><i class="g3">3</i><i class="gh">-</i><i class="g3">3</i><i class="g9">9</i><i class="gk"></i><i class="g8">8</i></div><div class="c" style="left:1889.60px"><i class="g0">0</i><i class="gk"></i><i class="g1"></i><i class="g0">0</i><i class="g3">3</i><i class="g2">2</i></div><div class="c" style="left:2073.89px"><i class="g9">9</i><i class="g8">8</i><i class="gk"></i><i class="g0">0</i></div></div>
<div class="r" style="top:1303px"><div class="c" style="left:48.73px"><i class="g1"></i><i class="g6">6</i><i class="g0">0</i><i class="gL">L</i><i class="gb">b</i></div><div class="c" style="left:213.87px"><i class="g7">7</i><i class="gk"></i><i class="g5">5</i><i class="gh">-</i><i class="g5">5</i></div><div class="c" style="left:385.88px"><i class="g1"></i><i class="g0">0</i><i class="gk"></i><i class="g2">2</i><i class="gh">-</i><i class="g6">6</i><i class="gk"></i><i class="g8">8</i></div><div class="c" style="left:563.83px"><i class="g9">9</i><i class="g5">5</i><i class="g0">0</i><i class="gs"></i><i class="g7">7</i><i class="g2">2</i><i class="g0">0</i></div><div class="c" style="left:754.80px"><i class="g1"></i><i class="g5">5</i><i class="gk"></i><i class="g5">5</i><i class="gh">-</i><i class="g1"></i><i class="g2">2</i></div><div class="c" style="left:919.10px"><i class="g8">8</i><i class="g3">3</i><i class="gh">-</i><i class="g7">7</i><i class="g8">8</i></div><div class="c" style="left:1099.85px"><i class="g0">0</i><i class="gk"></i><i class="g8">8</i><i class="g4">4</i><i class="gh">-</i><i class="g0">0</i><i class="gk"></i><i class="g7">7</i><i class="g7">7</i></div><div class="c" style="left:1275.77px"><i class="g5">5</i><i class="gk"></i><i class="g8">8</i><i class="gh">-</i><i class="g4">4</i><i class="gk"></i><i class="g8">8</i></div><div class="c" style="left:1414.50px"><i class="g2">2</i><i class="gk"></i><i class="g1"></i><i class="gh">-</i><i class="g2">2</i></div><div class="c" style="left:1557.76px"><i class="g2">2</i><i class="gk"></i><i class="g2">2</i><i class="gh">-</i><i class="g2">2</i><i class="gk"></i><i class="g2">2</i></div><div class="c" style="left:1719.80px"><i class="g7">7</i><i class="g5">5</i><i class="gk"></i><i class="g4">4</i><i class="gh">-</i><i class="g6">6</i><i class="g6">6</i><i class="gk"></i><i class="g3">3</i></div><div class="c" style="left:1889.60px"><i class="g0">0</i><i class="gk"></i><i class="g1"></i><i class="g2">2</i><i class="g6">6</i><i class="g1"></i></div><div class="c" style="left:2073.89px"><i class="g1"></i><i class="g1"></i><i class="g1"></i><i class="gk"></i><i class="g2">2</i></div></div>
</body></html>
